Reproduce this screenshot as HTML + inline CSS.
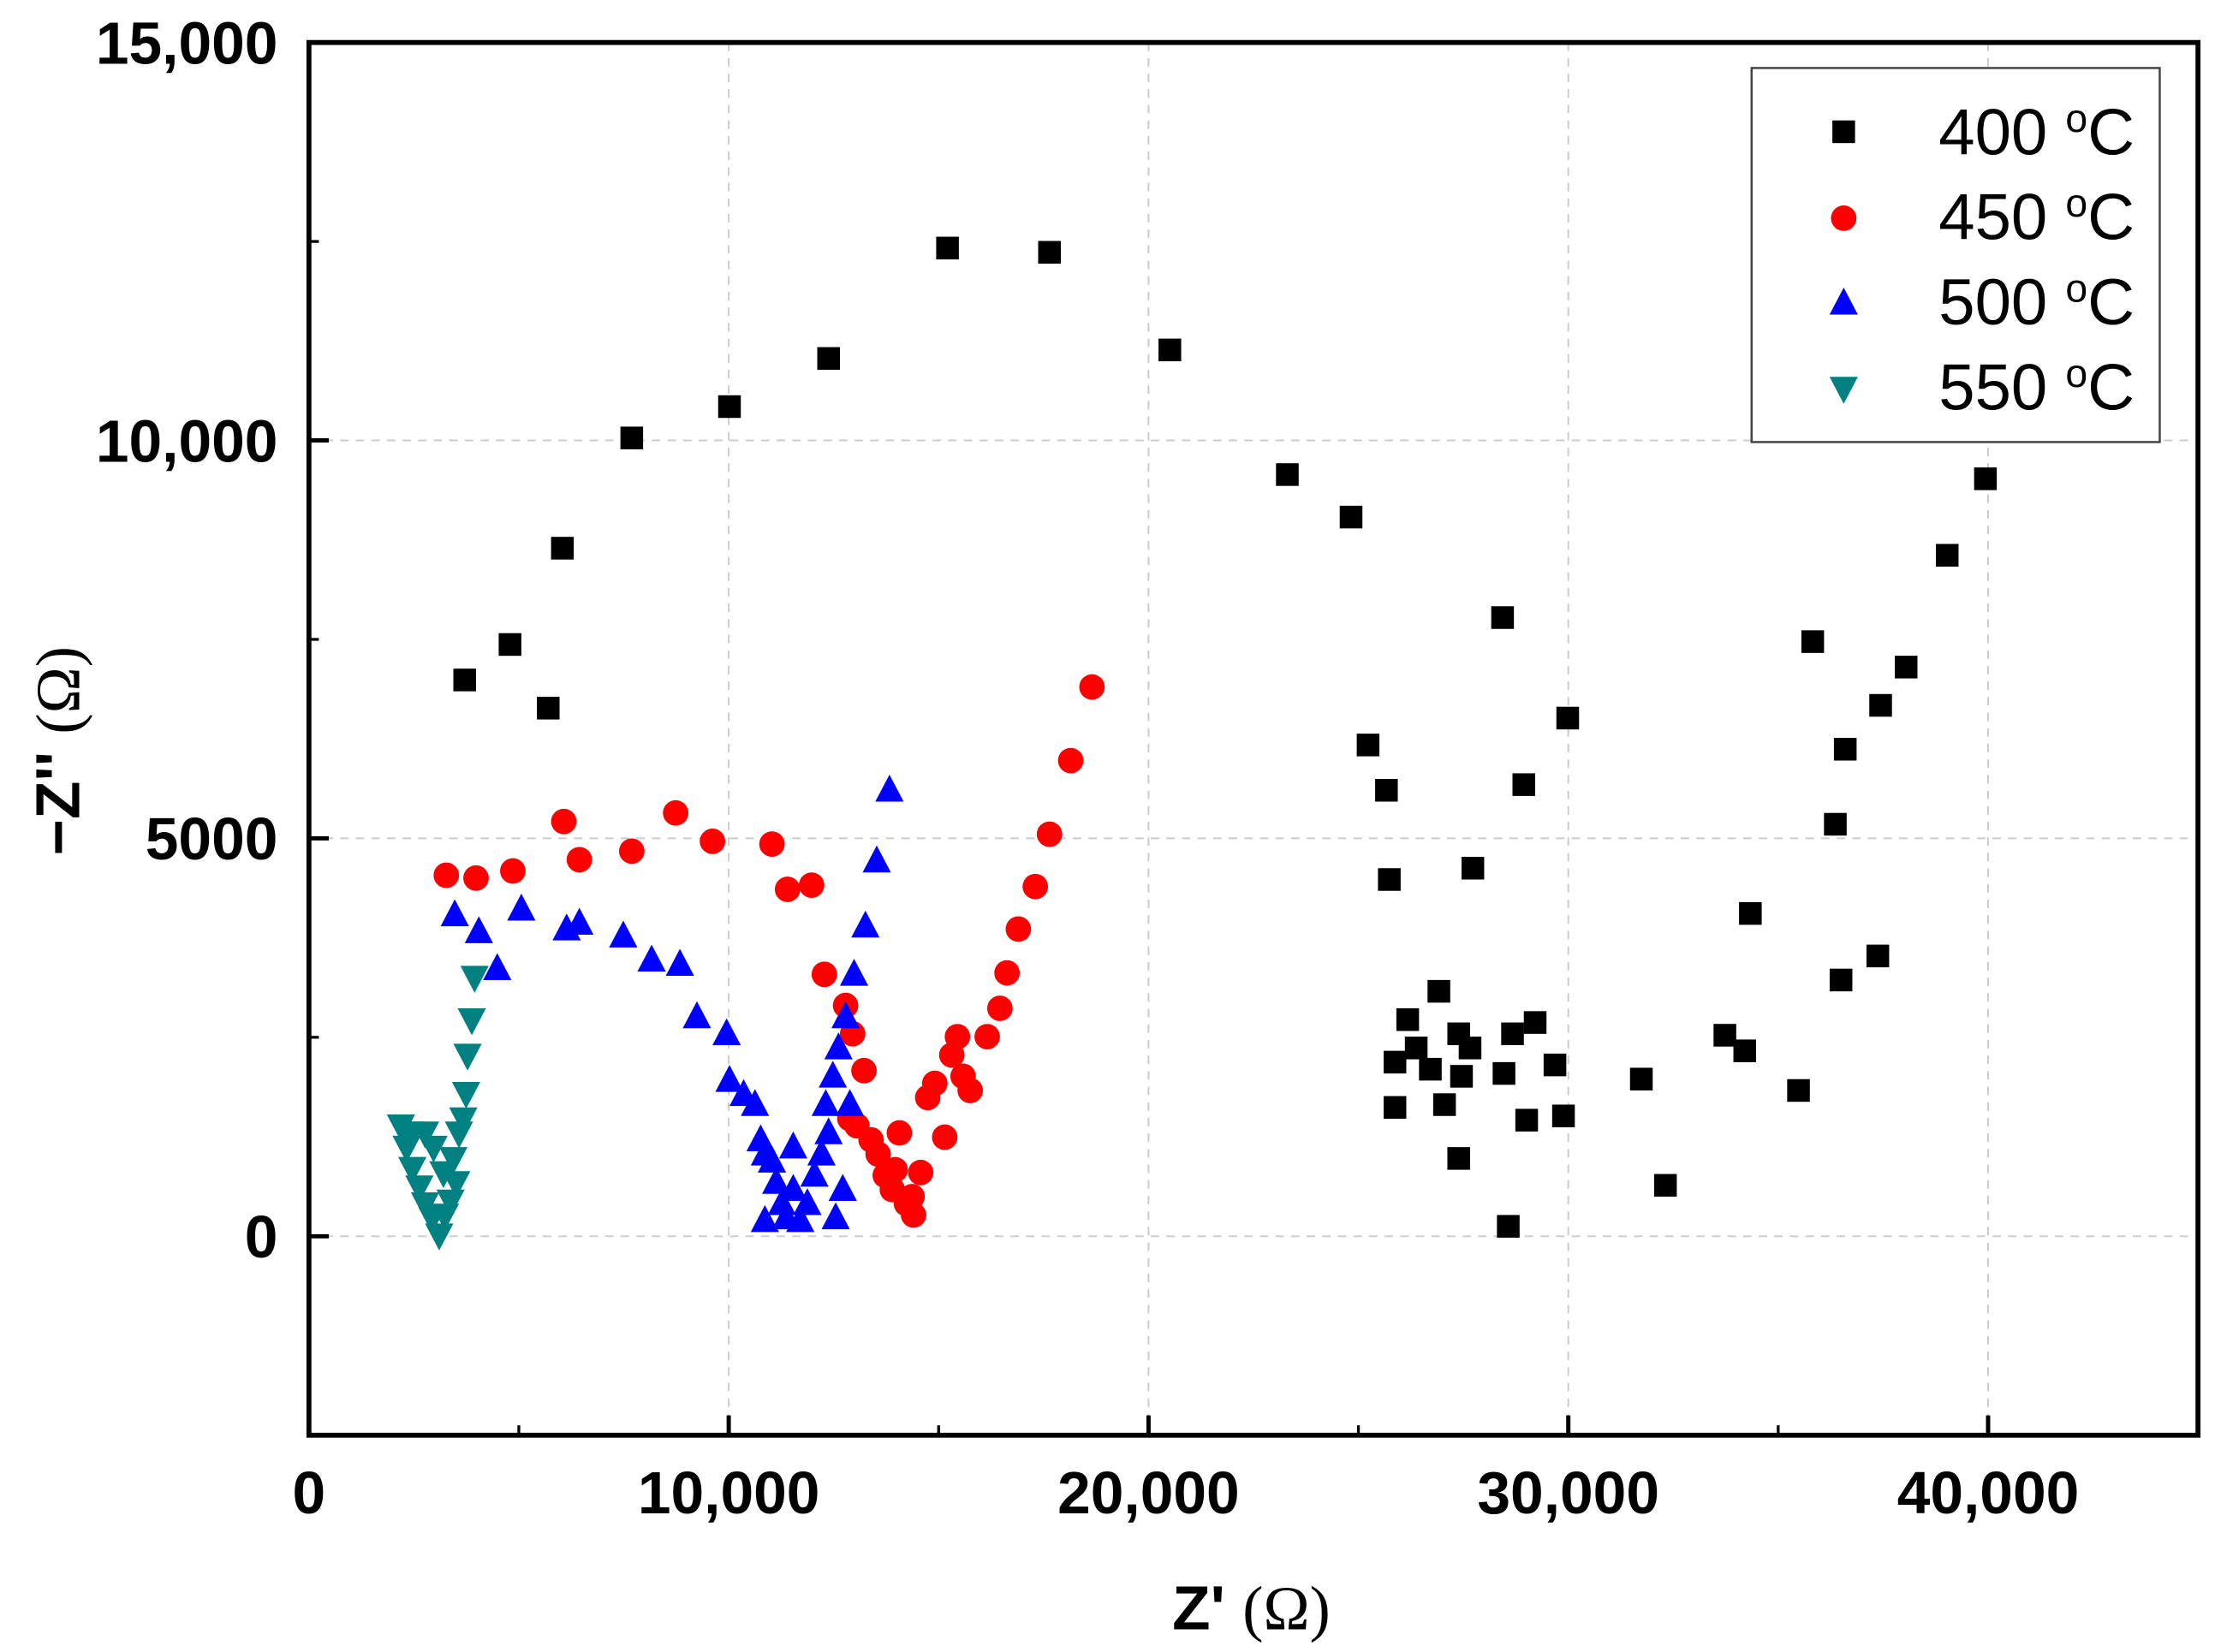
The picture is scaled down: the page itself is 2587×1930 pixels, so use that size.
<!DOCTYPE html>
<html><head><meta charset="utf-8"><style>
html,body{margin:0;padding:0;background:#fff;}
svg{display:block;}
text{font-family:"Liberation Sans",Arial,sans-serif;}
</style></head><body>
<svg id="chart" width="2587" height="1930" viewBox="0 0 1563 1166" preserveAspectRatio="none" xmlns="http://www.w3.org/2000/svg">
<g id="grid"></g>
<g id="marks"></g>
<rect x="218" y="30" width="1333" height="983" fill="none" stroke="#000" stroke-width="3.5"/>
<g id="ticks"></g>
<text x="883" y="1150" font-size="44" font-weight="bold" text-anchor="middle">Z' <tspan font-weight="normal" font-family="Liberation Serif,serif">(Ω)</tspan></text>
<text transform="translate(56,530) rotate(-90)" font-size="44" font-weight="bold" text-anchor="middle">−Z'' <tspan font-weight="normal" font-family="Liberation Serif,serif">(Ω)</tspan></text>
<g>
<rect x="1236" y="48" width="288" height="264" fill="#fff" stroke="#444" stroke-width="1.5"/>
<rect x="1293" y="85" width="16" height="16" fill="#000"/>
<circle cx="1301" cy="154" r="9" fill="#f00"/>
<polygon points="1301,203 1291,222 1311,222" fill="#00f"/>
<polygon points="1291,266 1311,266 1301,285" fill="#008080"/>
<text x="1368" y="109" font-size="46">400 <tspan font-size="28" dy="-16">o</tspan><tspan dy="16">C</tspan></text>
<text x="1368" y="169" font-size="46">450 <tspan font-size="28" dy="-16">o</tspan><tspan dy="16">C</tspan></text>
<text x="1368" y="229" font-size="46">500 <tspan font-size="28" dy="-16">o</tspan><tspan dy="16">C</tspan></text>
<text x="1368" y="289" font-size="46">550 <tspan font-size="28" dy="-16">o</tspan><tspan dy="16">C</tspan></text>
</g>
</svg>
<script>
const xTicks=[0,10000,20000,30000,40000];
const xTickLabels=["0","10,000","20,000","30,000","40,000"];
const yTicks=[0,5000,10000,15000];
const yTickLabels=["0","5000","10,000","15,000"];
const s400x=[3710,4790,5700,6038,7690,10018,12379,15212,17641,20508,23307,24825,28434,29986,25230,25668,25736,27726,28940,25871,26174,26917,26377,26714,27389,27659,27456,27051,25871,27389,28468,28671,29210,29682,29008,29885,28570,31740,32314,33730,34203,34337,35484,35822,36361,36496,36597,37373,37440,38047,39026,39937];
const s400y=[6990,7436,6636,8646,10031,10425,11030,12417,12364,11137,9571,9037,7774,6511,6173,5604,4483,4625,5675,2188,2722,3078,2366,2099,2544,2366,2010,1654,1619,978,2046,2544,2686,2153,1459,1512,125,1975,640,2526,2330,4056,1832,7472,5177,3220,6120,3522,6671,7152,8557,9518];
const s450x=[3272,3980,4857,6071,6442,7690,8736,9613,11030,11401,11974,12278,12784,12952,13222,12885,13054,13391,13559,13728,13897,13964,14065,14234,14369,14403,14572,14740,14909,15145,15314,15448,15583,15752,16157,16460,16629,16899,17303,17641,18147,18653];
const s450y=[4536,4501,4590,5212,4732,4839,5319,4963,4928,4359,4412,3291,2900,2544,2081,1477,1388,1210,1032,765,587,836,1299,409,498,267,801,1743,1921,1245,2277,2508,2010,1832,2508,2864,3309,3860,4394,5052,5977,6902];
const s500x=[3474,4048,4486,5059,6139,6442,7488,8163,8837,9242,9950,10018,10355,10625,10760,10861,11030,11131,11266,11367,11536,11704,11873,12042,12210,12379,12548,12716,12311,12480,12615,12784,12986,13256,13526,13829,10861,12885,11536];
const s500y=[4038,3825,3362,4109,3860,3932,3771,3469,3416,2757,2544,1957,1779,1654,1210,1032,943,676,409,231,587,196,409,765,1032,1299,231,587,1654,2010,2366,2757,3291,3896,4714,5604,196,1654,1121];
const s550x=[2192,2327,2462,2631,2766,2935,3103,3238,3373,3508,3440,3575,3677,3744,3778,3879,3946,3204,2968,2766,2429];
const s550y=[1388,1121,854,622,409,231,18,267,445,676,978,1299,1477,1797,2277,2722,3255,801,1121,1299,1299];

const NS="http://www.w3.org/2000/svg";
const X0=218,X1=1551,Y0=1013,Y1=30,XMAX=45000,YMIN=-2500,YMAX=15000;
function sx(v){return X0+(v/XMAX)*(X1-X0);}
function sy(v){return Y0-(v-YMIN)/(YMAX-YMIN)*(Y0-Y1);}
function mk(tag,attrs,parent){const e=document.createElementNS(NS,tag);for(const k in attrs)e.setAttribute(k,attrs[k]);parent.appendChild(e);return e;}
const grid=document.getElementById('grid'),ticks=document.getElementById('ticks'),marks=document.getElementById('marks');
xTicks.forEach((v,i)=>{
  const x=sx(v);
  if(v>0){const g=mk('line',{x1:x,x2:x,y1:Y1,y2:Y0,stroke:'#ccc','stroke-width':1.2,'stroke-dasharray':'6,5'},grid);
  
  }
  const t=mk('line',{x1:x,x2:x,y1:Y0,y2:Y0-14,stroke:'#000','stroke-width':3},ticks);
  
  
  const l=mk('text',{x:x,y:1068,'font-size':42,'font-weight':'bold','text-anchor':'middle'},ticks);
  l.textContent=xTickLabels[i];
  
  
});
[5000,15000,25000,35000].forEach(v=>{const x=sx(v);const t=mk('line',{x1:x,x2:x,y1:Y0,y2:Y0-7,stroke:'#000','stroke-width':2},ticks);
  
  });
yTicks.forEach((v,i)=>{
  const y=sy(v);
  if(v<15000){const g=mk('line',{x1:X0,x2:X1,y1:y,y2:y,stroke:'#ccc','stroke-width':1.2,'stroke-dasharray':'6,5'},grid);
  
  }
  const t=mk('line',{x1:X0,x2:X0+14,y1:y,y2:y,stroke:'#000','stroke-width':3},ticks);
  
  
  const l=mk('text',{x:196,y:y+15,'font-size':42,'font-weight':'bold','text-anchor':'end'},ticks);
  l.textContent=yTickLabels[i];
  
  
});
[2500,7500,12500].forEach(v=>{const y=sy(v);const t=mk('line',{x1:X0,x2:X0+7,y1:y,y2:y,stroke:'#000','stroke-width':2},ticks);
  
  });
s400x.forEach((v,i)=>{const x=sx(v),y=sy(s400y[i]);const e=mk('rect',{x:x-8,y:y-8,width:16,height:16,fill:'#000'},marks);
  
  });
s450x.forEach((v,i)=>{const x=sx(v),y=sy(s450y[i]);const e=mk('circle',{cx:x,cy:y,r:9,fill:'#f00'},marks);
  
  });
s500x.forEach((v,i)=>{const x=sx(v),y=sy(s500y[i]);const e=mk('polygon',{points:`${x},${y-11} ${x-10},${y+8} ${x+10},${y+8}`,fill:'#00f'},marks);
  
  });
s550x.forEach((v,i)=>{const x=sx(v),y=sy(s550y[i]);const e=mk('polygon',{points:`${x-10},${y-8} ${x+10},${y-8} ${x},${y+11}`,fill:'#008080'},marks);
  
  });
</script>
</body></html>
